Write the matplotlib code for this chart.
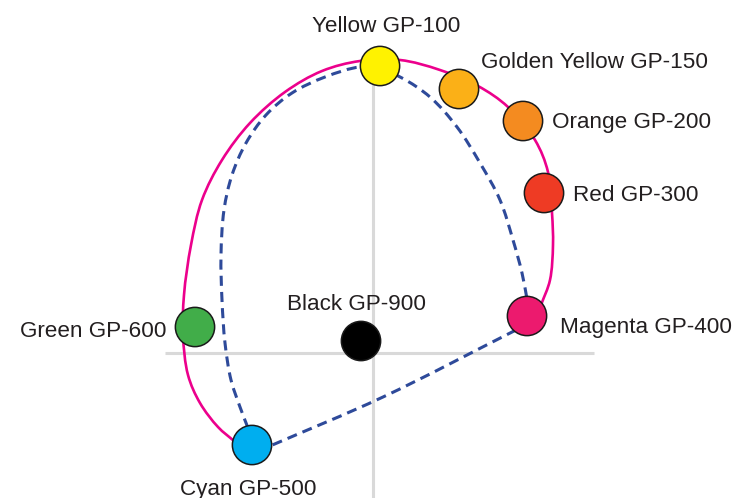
import matplotlib
matplotlib.use("Agg")
import matplotlib.pyplot as plt
import numpy as np
from matplotlib.path import Path
from matplotlib.patches import PathPatch

# ---- data (a/b style coordinates, origin at the axis cross) ----
names = ["Yellow GP-100", "Golden Yellow GP-150", "Orange GP-200", "Red GP-300",
         "Magenta GP-400", "Cyan GP-500", "Green GP-600", "Black GP-900"]
px = [7, 86, 150, 171, 154, -121, -178, -12]
py = [287, 264, 232, 160, 37, -92, 26, 12]
colors = ["#FFF200", "#FBB017", "#F48B20", "#EE3B24", "#EC1A6E", "#00AEEF", "#41AD49", "#000000"]

# label anchor (left x, baseline y)
label_x = [-61, 108, 179, 200, 187, -193, -353, -86]
label_y = [321, 285, 225, 152, 20, -142, 16, 43]

# outer (solid) gamut boundary
outer_x = [-139, -155, -173, -185, -190, -189, -182, -171, -151, -123, -88, -51,
           -13, 27, 67, 105, 135, 162, 175, 179, 180, 177, 168]
outer_y = [-88, -74, -50, -22, 18, 58, 108, 153, 193, 230, 261, 282,
           292, 293, 283, 267, 246, 213, 181, 140, 108, 73, 48]

# inner (dashed) gamut boundary: upper arc and lower edge
inner_arc_x = [-125, -133, -142, -148, -151, -152, -149, -141, -127, -107, -81, -48,
               -13, 7, 29, 57, 84, 107, 127, 140, 149, 154]
inner_arc_y = [-75, -54, -27, 10, 53, 98, 143, 178, 210, 238, 260, 276,
               286, 284, 275, 256, 226, 190, 153, 113, 80, 54]
inner_low_x = [143, 10, -103]
inner_low_y = [23, -44, -93]


def smooth_path(xs, ys, alpha=0.5):
    """Centripetal Catmull-Rom through the given anchors, as cubic Bezier path."""
    P = np.column_stack([xs, ys]).astype(float)
    P = np.vstack([2 * P[0] - P[1], P, 2 * P[-1] - P[-2]])
    verts = [tuple(P[1])]
    codes = [Path.MOVETO]
    for i in range(1, len(P) - 2):
        p0, p1, p2, p3 = P[i - 1], P[i], P[i + 1], P[i + 2]
        d0 = np.linalg.norm(p1 - p0) ** alpha
        d1 = np.linalg.norm(p2 - p1) ** alpha
        d2 = np.linalg.norm(p3 - p2) ** alpha
        m1 = ((p1 - p0) / d0 - (p2 - p0) / (d0 + d1) + (p2 - p1) / d1) * d1
        m2 = ((p2 - p1) / d1 - (p3 - p1) / (d1 + d2) + (p3 - p2) / d2) * d1
        verts += [tuple(p1 + m1 / 3), tuple(p2 - m2 / 3), tuple(p2)]
        codes += [Path.CURVE4] * 3
    return Path(verts, codes)


fig = plt.figure(figsize=(7.34, 4.98), dpi=100)
ax = fig.add_axes([0, 0, 1, 1])
ax.set_xlim(-373, 361)
ax.set_ylim(-145, 353)
ax.axis("off")

# axis cross
ax.plot([-208, 221], [0, 0], color="#D9D9D9", lw=2.2, zorder=1, solid_capstyle="butt")
ax.plot([0, 0], [-150, 270], color="#D9D9D9", lw=2.2, zorder=1, solid_capstyle="butt")

ax.add_patch(PathPatch(smooth_path(outer_x, outer_y), facecolor="none",
                       edgecolor="#EC008C", lw=1.9, zorder=2))
for xs, ys in [(inner_arc_x, inner_arc_y), (inner_low_x, inner_low_y)]:
    ax.add_patch(PathPatch(smooth_path(xs, ys), facecolor="none",
                           edgecolor="#2E4A9A", lw=2.2, linestyle=(0, (3.3, 2.0)), zorder=3))

ax.scatter(px, py, s=800, c=colors, edgecolors="#1a1a1a", linewidths=1.1, zorder=4)

for name, lx, ly in zip(names, label_x, label_y):
    ax.text(lx, ly, name, ha="left", va="baseline", fontsize=16.2,
            family=["Liberation Sans", "DejaVu Sans"], color="#231F20", zorder=5)

fig.savefig("out.png", dpi=100)
